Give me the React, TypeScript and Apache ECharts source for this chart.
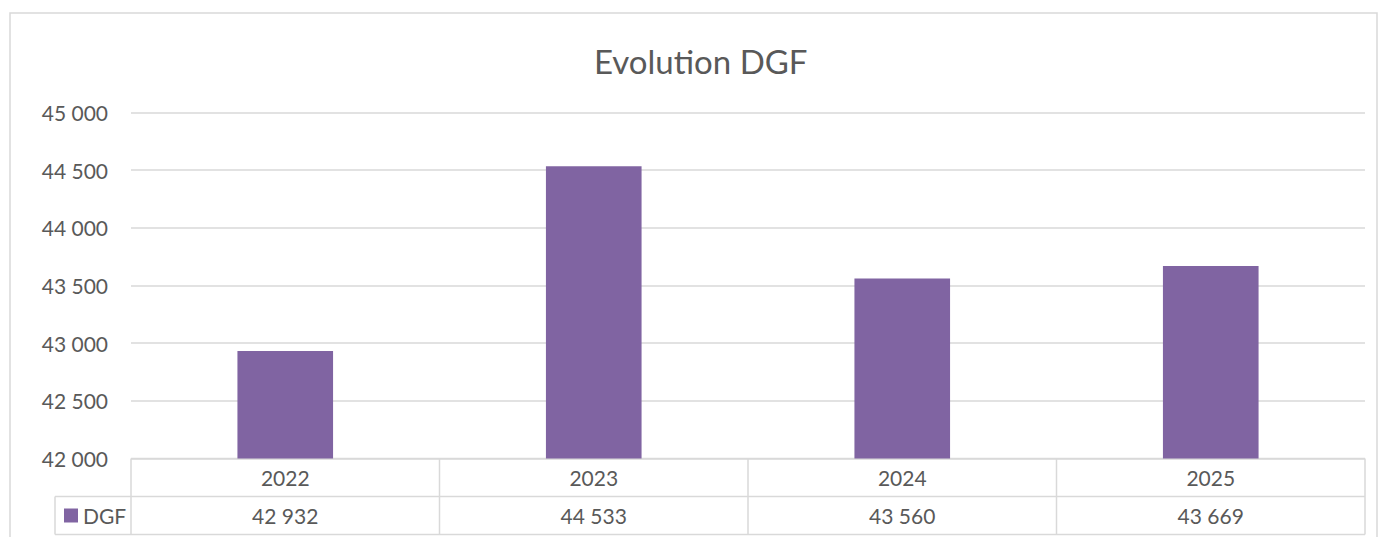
import React, { useEffect, useRef } from "react";
import * as echarts from "echarts";

const categories = ["2022", "2023", "2024", "2025"];
const dgfValues = [42932, 44533, 43560, 43669];
const yMin = 42000;
const yMax = 45000;
const yStep = 500;
const seriesName = "DGF";
const chartTitle = "Evolution DGF";

const fmt = (v: number) => String(v).replace(/\B(?=(\d{3})+(?!\d))/g, " ");

const W = 1384;
const H = 537;
const GL = 131;
const GR = 1365;
const GT = 112.5;
const GB = 458.5;
const ROW = 38;
const LEG_L = 55;
const BORDER = "#d9d9d9";
const TEXT = "#595959";
const BAR = "#8064a2";
const FONT = "Lato, 'Liberation Sans', sans-serif";
const FS = 21;

export default function App() {
  const ref = useRef<HTMLDivElement>(null);
  useEffect(() => {
    if (!ref.current) return;
    const chart = echarts.init(ref.current, undefined, { renderer: "svg" });
    const colW = (GR - GL) / categories.length;
    const graphics: any[] = [];
    graphics.push({
      type: "rect",
      shape: { x: 10, y: 13, width: 1367, height: 600 },
      style: { fill: "none", stroke: BORDER, lineWidth: 1.5 },
      silent: true,
    });
    const line = (x1: number, y1: number, x2: number, y2: number) => ({
      type: "line",
      shape: { x1, y1, x2, y2 },
      style: { stroke: BORDER, lineWidth: 1.5 },
      silent: true,
    });
    graphics.push(line(GL, GB, GR, GB));
    graphics.push(line(LEG_L, GB + ROW, GR, GB + ROW));
    graphics.push(line(LEG_L, GB + 2 * ROW, GR, GB + 2 * ROW));
    graphics.push(line(LEG_L, GB + ROW, LEG_L, GB + 2 * ROW));
    for (let i = 0; i <= categories.length; i++) {
      const x = GL + i * colW;
      graphics.push(line(x, GB, x, GB + 2 * ROW));
    }
    categories.forEach((c, i) => {
      const cx = GL + (i + 0.5) * colW;
      graphics.push({
        type: "text",
        x: cx,
        y: GB + ROW / 2,
        style: {
          text: c,
          fill: TEXT,
          font: `${FS}px ${FONT}`,
          textAlign: "center",
          textVerticalAlign: "middle",
        },
        silent: true,
      });
      graphics.push({
        type: "text",
        x: cx,
        y: GB + ROW * 1.5,
        style: {
          text: fmt(dgfValues[i]),
          fill: TEXT,
          font: `${FS}px ${FONT}`,
          textAlign: "center",
          textVerticalAlign: "middle",
        },
        silent: true,
      });
    });
    graphics.push({
      type: "rect",
      shape: { x: 64, y: GB + ROW * 1.5 - 7, width: 14, height: 14 },
      style: { fill: BAR },
      silent: true,
    });
    graphics.push({
      type: "text",
      x: 83,
      y: GB + ROW * 1.5,
      style: {
        text: seriesName,
        fill: TEXT,
        font: `${FS}px ${FONT}`,
        textAlign: "left",
        textVerticalAlign: "middle",
      },
      silent: true,
    });

    chart.setOption({
      animation: false,
      backgroundColor: "#ffffff",
      title: {
        text: chartTitle,
        left: 589,
        top: 39,
        textStyle: { color: TEXT, fontSize: 33, fontWeight: "normal", fontFamily: FONT },
      },
      grid: { left: GL, right: W - GR, top: GT, bottom: H - GB, containLabel: false },
      xAxis: {
        type: "category",
        data: categories,
        axisLine: { show: false },
        axisTick: { show: false },
        axisLabel: { show: false },
      },
      yAxis: {
        type: "value",
        min: yMin,
        max: yMax,
        interval: yStep,
        axisLine: { show: false },
        axisTick: { show: false },
        axisLabel: {
          color: TEXT,
          fontSize: FS,
          fontFamily: FONT,
          margin: 23,
          formatter: (v: number) => fmt(v),
        },
        splitLine: { lineStyle: { color: BORDER, width: 1.5 } },
      },
      series: [
        {
          name: seriesName,
          type: "bar",
          data: dgfValues,
          barWidth: "31%",
          itemStyle: { color: BAR },
        },
      ],
      graphic: graphics,
    });
    return () => chart.dispose();
  }, []);
  return (
    <div
      ref={ref}
      style={{ position: "fixed", left: 0, top: 0, width: W, height: H, background: "#fff" }}
    />
  );
}
